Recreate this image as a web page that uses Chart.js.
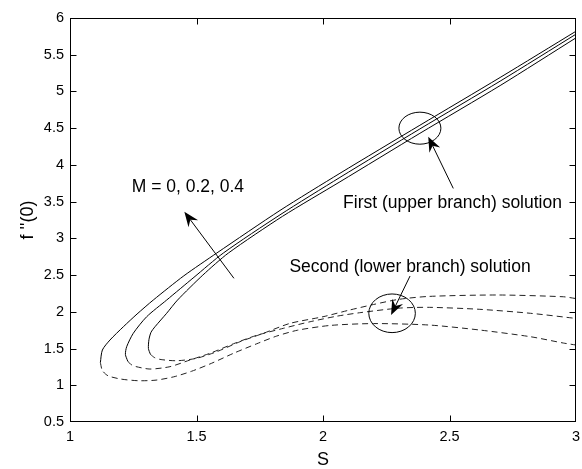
<!DOCTYPE html>
<html>
<head>
<meta charset="utf-8">
<script src="https://cdn.jsdelivr.net/npm/chart.js@4.4.1/dist/chart.umd.min.js"></script>
<style>
  html, body { margin: 0; padding: 0; background: #fff; }
  #chart { display: block; }
</style>
</head>
<body>
<canvas id="chart" width="582" height="469"></canvas>
<script>
// first (upper branch) solution, S and f''(0), one pair per M
const upperS_M04 = [1.12, 1.128, 1.158, 1.211, 1.265, 1.329, 1.45, 1.58, 1.83, 2.067, 2.383, 2.7, 3.0];
const upperF_M04 = [1.31, 1.48, 1.616, 1.797, 1.97, 2.16, 2.49, 2.8, 3.38, 3.886, 4.54, 5.19, 5.82];
const upperS_M02 = [1.228, 1.219, 1.224, 1.25, 1.303, 1.382, 1.49, 1.606, 1.83, 2.067, 2.383, 2.7, 3.0];
const upperF_M02 = [1.33, 1.42, 1.525, 1.707, 1.933, 2.16, 2.47, 2.8, 3.32, 3.83, 4.49, 5.14, 5.78];
const upperS_M0 = [1.318, 1.31, 1.312, 1.32, 1.336, 1.382, 1.425, 1.525, 1.626, 1.84, 2.067, 2.383, 2.7, 3.0];
const upperF_M0 = [1.42, 1.5, 1.62, 1.72, 1.797, 1.98, 2.16, 2.5, 2.8, 3.3, 3.77, 4.43, 5.08, 5.73];

// second (lower branch) solution
const lowerS_M04 = [1.12, 1.128, 1.15, 1.2, 1.27, 1.34, 1.41, 1.48, 1.56, 1.646, 1.738, 1.817, 1.9, 2.03, 2.2, 2.42, 2.62, 2.82, 2.95, 3.0];
const lowerF_M04 = [1.31, 1.2, 1.13, 1.085, 1.062, 1.07, 1.115, 1.19, 1.3, 1.435, 1.565, 1.67, 1.75, 1.815, 1.84, 1.82, 1.752, 1.661, 1.575, 1.548];
const lowerS_M02 = [1.228, 1.24, 1.26, 1.316, 1.395, 1.474, 1.553, 1.646, 1.738, 1.843, 1.949, 2.054, 2.15, 2.3, 2.42, 2.62, 2.82, 3.0];
const lowerF_M02 = [1.33, 1.285, 1.255, 1.221, 1.253, 1.344, 1.435, 1.565, 1.68, 1.775, 1.865, 1.94, 1.99, 2.05, 2.061, 2.034, 1.98, 1.91];
const lowerS_M0 = [1.318, 1.335, 1.36, 1.422, 1.5, 1.58, 1.672, 1.764, 1.87, 2.0, 2.1, 2.2, 2.3, 2.42, 2.69, 2.95, 3.0];
const lowerF_M0 = [1.42, 1.375, 1.35, 1.334, 1.367, 1.457, 1.593, 1.707, 1.843, 1.933, 2.02, 2.1, 2.17, 2.21, 2.229, 2.205, 2.18];

const xTicks = [1, 1.5, 2, 2.5, 3];
const yTicks = [0.5, 1, 1.5, 2, 2.5, 3, 3.5, 4, 4.5, 5, 5.5, 6];

const FONT = '"Liberation Sans", Arial, Helvetica, sans-serif';

// annotations, in data units
const ellipses = [
  { s: 2.383, f: 4.50, rs: 0.083, rf: 0.218 },
  { s: 2.273, f: 1.98, rs: 0.092, rf: 0.263 },
];
const arrows = [
  { from: [2.515, 3.68], to: [2.416, 4.384] },
  { from: [2.344, 2.487], to: [2.269, 1.957] },
  { from: [1.648, 2.456], to: [1.452, 3.363] },
];
const notes = [
  { text: "First (upper branch) solution", s: 2.512, f: 3.409 },
  { text: "Second (lower branch) solution", s: 2.344, f: 2.546 },
  { text: "M = 0, 0.2, 0.4", s: 1.466, f: 3.627 },
];

function toPoints(xs, ys) {
  return xs.map((x, i) => ({ x: x, y: ys[i] }));
}

function line(xs, ys, dashed) {
  return {
    data: toPoints(xs, ys),
    showLine: true,
    borderColor: dashed ? "#222" : "#000",
    borderWidth: 1,
    borderDash: dashed ? [6, 4] : [],
    pointRadius: 0,
    tension: 0.25,
  };
}

function drawArrow(ctx, x0, y0, x1, y1) {
  const ang = Math.atan2(y1 - y0, x1 - x0);
  const c = Math.cos(ang), s = Math.sin(ang);
  const len = 15, half = 6, notch = 10;
  ctx.beginPath();
  ctx.moveTo(x0, y0);
  ctx.lineTo(x1 - c * notch, y1 - s * notch);
  ctx.stroke();
  const bx = x1 - c * len, by = y1 - s * len;
  ctx.beginPath();
  ctx.moveTo(x1, y1);
  ctx.lineTo(bx + s * half, by - c * half);
  ctx.lineTo(x1 - c * notch, y1 - s * notch);
  ctx.lineTo(bx - s * half, by + c * half);
  ctx.closePath();
  ctx.fill();
}

const frame = {
  id: "frame",
  afterDraw(chart) {
    const { ctx, chartArea: a, scales: { x, y } } = chart;
    const L = Math.round(a.left) + 0.5, R = Math.round(a.right) - 0.5;
    const T = Math.round(a.top) + 0.5, B = Math.round(a.bottom) - 0.5;
    const tl = 6;
    ctx.save();
    ctx.strokeStyle = "#000";
    ctx.fillStyle = "#000";
    ctx.lineWidth = 1;
    ctx.strokeRect(L, T, R - L, B - T);
    ctx.beginPath();
    xTicks.slice(1, -1).forEach((v) => {
      const px = Math.round(x.getPixelForValue(v)) + 0.5;
      ctx.moveTo(px, B); ctx.lineTo(px, B - tl);
      ctx.moveTo(px, T); ctx.lineTo(px, T + tl);
    });
    yTicks.slice(1, -1).forEach((v) => {
      const py = Math.round(y.getPixelForValue(v)) + 0.5;
      ctx.moveTo(L, py); ctx.lineTo(L + tl, py);
      ctx.moveTo(R, py); ctx.lineTo(R - tl, py);
    });
    ctx.stroke();

    ellipses.forEach((e) => {
      const cx = x.getPixelForValue(e.s), cy = y.getPixelForValue(e.f);
      const rx = x.getPixelForValue(e.s + e.rs) - cx;
      const ry = cy - y.getPixelForValue(e.f + e.rf);
      ctx.beginPath();
      ctx.ellipse(cx, cy, rx, ry, 0, 0, Math.PI * 2);
      ctx.stroke();
    });

    arrows.forEach((ar) => {
      drawArrow(ctx,
        x.getPixelForValue(ar.from[0]), y.getPixelForValue(ar.from[1]),
        x.getPixelForValue(ar.to[0]), y.getPixelForValue(ar.to[1]));
    });

    ctx.font = "17.5px " + FONT;
    ctx.textAlign = "center";
    ctx.textBaseline = "alphabetic";
    notes.forEach((n) => {
      ctx.fillText(n.text, x.getPixelForValue(n.s), y.getPixelForValue(n.f));
    });
    ctx.restore();
  },
};

new Chart(document.getElementById("chart"), {
  type: "scatter",
  data: {
    datasets: [
      line(upperS_M04, upperF_M04, false),
      line(upperS_M02, upperF_M02, false),
      line(upperS_M0, upperF_M0, false),
      line(lowerS_M04, lowerF_M04, true),
      line(lowerS_M02, lowerF_M02, true),
      line(lowerS_M0, lowerF_M0, true),
    ],
  },
  options: {
    responsive: false,
    animation: false,
    devicePixelRatio: 1,
    layout: { padding: { top: 18, right: 6, left: 0, bottom: 0 } },
    plugins: { legend: { display: false }, tooltip: { enabled: false } },
    scales: {
      x: {
        type: "linear",
        min: 1,
        max: 3,
        afterBuildTicks: (s) => { s.ticks = xTicks.map((v) => ({ value: v })); },
        afterFit: (s) => { s.height = 47; s.paddingLeft = 0; s.paddingRight = 0; },
        grid: { display: false, drawTicks: false },
        border: { display: false },
        ticks: {
          autoSkip: false,
          padding: 6,
          color: "#000",
          font: { family: FONT, size: 14.5 },
          callback: (v) => String(Math.round(v * 10) / 10),
        },
        title: {
          display: true,
          text: "S",
          color: "#000",
          font: { family: FONT, size: 18 },
          padding: { top: 0, bottom: -2 },
        },
      },
      y: {
        type: "linear",
        min: 0.5,
        max: 6,
        afterBuildTicks: (s) => { s.ticks = yTicks.map((v) => ({ value: v })); },
        afterFit: (s) => { s.width = 70; s.paddingTop = 0; s.paddingBottom = 0; },
        grid: { display: false, drawTicks: false },
        border: { display: false },
        ticks: {
          autoSkip: false,
          padding: 6,
          color: "#000",
          font: { family: FONT, size: 14.5 },
          callback: (v) => String(Math.round(v * 10) / 10),
        },
        title: {
          display: true,
          text: "f ''(0)",
          color: "#000",
          font: { family: FONT, size: 18 },
          padding: { top: 17, bottom: 0 },
        },
      },
    },
  },
  plugins: [frame],
});
</script>
</body>
</html>
